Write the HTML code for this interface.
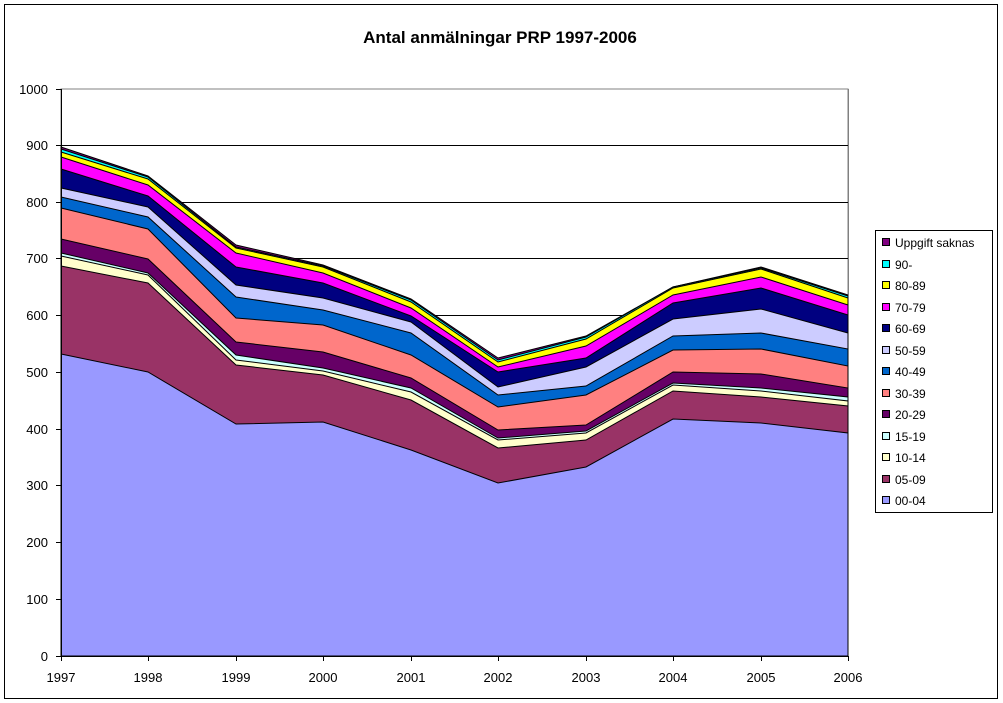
<!DOCTYPE html>
<html><head><meta charset="utf-8"><style>body{margin:0;background:#fff}svg{display:block}</style></head><body>
<svg width="1003" height="703" xmlns="http://www.w3.org/2000/svg" font-family="Liberation Sans, Arial, sans-serif">
<rect x="0" y="0" width="1003" height="703" fill="#fff"/>
<rect x="4.5" y="4.5" width="993" height="694" fill="none" stroke="#000" stroke-width="1"/>
<text x="500" y="43" font-size="17" font-weight="bold" text-anchor="middle">Antal anmälningar PRP 1997-2006</text>
<rect x="61" y="89" width="787" height="567" fill="#fff" stroke="#808080"/>
<g stroke="#000" stroke-width="1">
<line x1="61" y1="145.5" x2="848" y2="145.5"/><line x1="61" y1="202.5" x2="848" y2="202.5"/><line x1="61" y1="258.5" x2="848" y2="258.5"/><line x1="61" y1="315.5" x2="848" y2="315.5"/><line x1="61" y1="372.5" x2="848" y2="372.5"/><line x1="61" y1="429.5" x2="848" y2="429.5"/><line x1="61" y1="485.5" x2="848" y2="485.5"/><line x1="61" y1="542.5" x2="848" y2="542.5"/><line x1="61" y1="599.5" x2="848" y2="599.5"/>
</g>
<g stroke="#000" stroke-width="1">
<polygon fill="#800080" points="61,147 148,176 236,245 323,265 411,299 498,358 586,336 673,287 761,267 848,295 848,656 61,656"/>
<polygon fill="#00FFFF" points="61,149 148,177 236,247 323,266 411,300 498,360 586,337 673,287 761,268 848,296 848,656 61,656"/>
<polygon fill="#FFFF00" points="61,152 148,179 236,248 323,267 411,302 498,362 586,339 673,288 761,269 848,298 848,656 61,656"/>
<polygon fill="#FF00FF" points="61,157 148,185 236,253 323,273 411,308 498,367 586,346 673,295 761,277 848,305 848,656 61,656"/>
<polygon fill="#000080" points="61,169 148,196 236,267 323,283 411,316 498,372 586,358 673,303 761,288 848,315 848,656 61,656"/>
<polygon fill="#CCCCFF" points="61,188 148,207 236,285 323,298 411,322 498,387 586,367 673,319 761,309 848,333 848,656 61,656"/>
<polygon fill="#0066CC" points="61,197 148,217 236,297 323,310 411,333 498,395 586,386 673,336 761,333 848,349 848,656 61,656"/>
<polygon fill="#FF8080" points="61,208 148,229 236,318 323,325 411,355 498,407 586,395 673,350 761,349 848,366 848,656 61,656"/>
<polygon fill="#660066" points="61,239 148,259 236,342 323,352 411,378 498,430 586,425 673,372 761,374 848,388 848,656 61,656"/>
<polygon fill="#CCFFFF" points="61,253 148,273 236,355 323,368 411,388 498,438 586,431 673,383 761,388 848,397 848,656 61,656"/>
<polygon fill="#FFFFCC" points="61,256 148,275 236,360 323,371 411,392 498,440 586,433 673,385 761,391 848,401 848,656 61,656"/>
<polygon fill="#993366" points="61,266 148,283 236,365 323,375 411,400 498,448 586,440 673,391 761,397 848,406 848,656 61,656"/>
<polygon fill="#9999FF" points="61,354 148,372 236,424 323,422 411,450 498,483 586,467 673,419 761,423 848,433 848,656 61,656"/>
</g>
<line x1="848.5" y1="89" x2="848.5" y2="656" stroke="#808080"/>
<g stroke="#000"><line x1="61.5" y1="89" x2="61.5" y2="656"/><line x1="61" y1="656.5" x2="848" y2="656.5"/>
<line x1="56" y1="89.5" x2="61" y2="89.5"/><line x1="56" y1="145.5" x2="61" y2="145.5"/><line x1="56" y1="202.5" x2="61" y2="202.5"/><line x1="56" y1="258.5" x2="61" y2="258.5"/><line x1="56" y1="315.5" x2="61" y2="315.5"/><line x1="56" y1="372.5" x2="61" y2="372.5"/><line x1="56" y1="429.5" x2="61" y2="429.5"/><line x1="56" y1="485.5" x2="61" y2="485.5"/><line x1="56" y1="542.5" x2="61" y2="542.5"/><line x1="56" y1="599.5" x2="61" y2="599.5"/><line x1="56" y1="656.5" x2="61" y2="656.5"/>
<line x1="61.5" y1="656" x2="61.5" y2="661"/><line x1="148.5" y1="656" x2="148.5" y2="661"/><line x1="236.5" y1="656" x2="236.5" y2="661"/><line x1="323.5" y1="656" x2="323.5" y2="661"/><line x1="411.5" y1="656" x2="411.5" y2="661"/><line x1="498.5" y1="656" x2="498.5" y2="661"/><line x1="586.5" y1="656" x2="586.5" y2="661"/><line x1="673.5" y1="656" x2="673.5" y2="661"/><line x1="761.5" y1="656" x2="761.5" y2="661"/><line x1="848.5" y1="656" x2="848.5" y2="661"/>
</g>
<g font-size="13" text-anchor="end">
<text x="48" y="94">1000</text><text x="48" y="150">900</text><text x="48" y="207">800</text><text x="48" y="263">700</text><text x="48" y="320">600</text><text x="48" y="377">500</text><text x="48" y="434">400</text><text x="48" y="490">300</text><text x="48" y="547">200</text><text x="48" y="604">100</text><text x="48" y="661">0</text>
</g>
<g font-size="13" text-anchor="middle">
<text x="61" y="682">1997</text><text x="148" y="682">1998</text><text x="236" y="682">1999</text><text x="323" y="682">2000</text><text x="411" y="682">2001</text><text x="498" y="682">2002</text><text x="586" y="682">2003</text><text x="673" y="682">2004</text><text x="761" y="682">2005</text><text x="848" y="682">2006</text>
</g>
<rect x="875.5" y="230.5" width="117" height="282" fill="#fff" stroke="#000"/>
<g font-size="12" stroke="#000" stroke-width="1">
<rect x="882.5" y="238.5" width="7" height="7" fill="#800080"/>
<rect x="882.5" y="260.5" width="7" height="7" fill="#00FFFF"/>
<rect x="882.5" y="281.5" width="7" height="7" fill="#FFFF00"/>
<rect x="882.5" y="303.5" width="7" height="7" fill="#FF00FF"/>
<rect x="882.5" y="324.5" width="7" height="7" fill="#000080"/>
<rect x="882.5" y="346.5" width="7" height="7" fill="#CCCCFF"/>
<rect x="882.5" y="367.5" width="7" height="7" fill="#0066CC"/>
<rect x="882.5" y="389.5" width="7" height="7" fill="#FF8080"/>
<rect x="882.5" y="410.5" width="7" height="7" fill="#660066"/>
<rect x="882.5" y="432.5" width="7" height="7" fill="#CCFFFF"/>
<rect x="882.5" y="453.5" width="7" height="7" fill="#FFFFCC"/>
<rect x="882.5" y="475.5" width="7" height="7" fill="#993366"/>
<rect x="882.5" y="496.5" width="7" height="7" fill="#9999FF"/>
</g>
<g font-size="12">
<text x="895" y="247">Uppgift saknas</text><text x="895" y="269">90-</text><text x="895" y="290">80-89</text><text x="895" y="312">70-79</text><text x="895" y="333">60-69</text><text x="895" y="355">50-59</text><text x="895" y="376">40-49</text><text x="895" y="398">30-39</text><text x="895" y="419">20-29</text><text x="895" y="441">15-19</text><text x="895" y="462">10-14</text><text x="895" y="484">05-09</text><text x="895" y="505">00-04</text>
</g>
</svg>
</body></html>
